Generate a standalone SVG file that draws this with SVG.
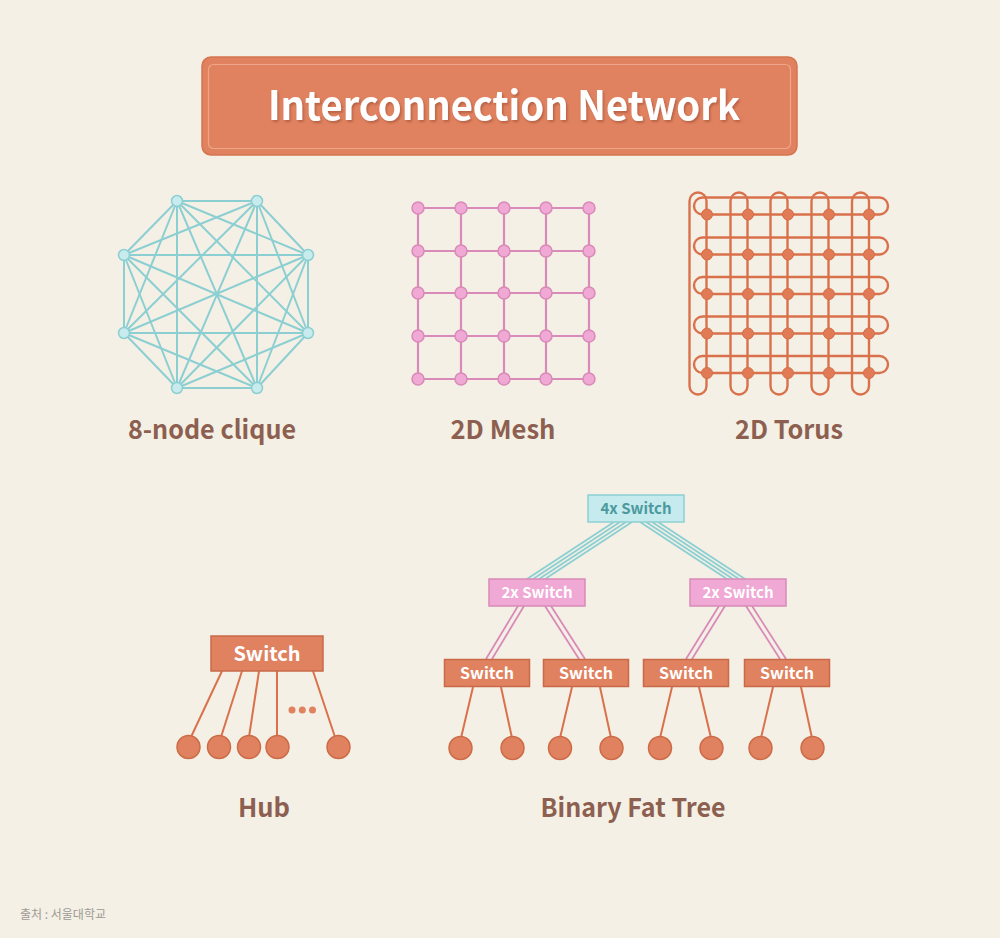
<svg xmlns="http://www.w3.org/2000/svg" width="1000" height="938" viewBox="0 0 1000 938">
<defs>
<style>
.lbl{font-family:"Noto Sans CJK KR","Noto Sans",sans-serif;font-weight:bold;fill:#8d5f50;text-anchor:middle;font-size:26px}
.cq{stroke:#8ccfd2;stroke-width:2;fill:none}
.cqn{fill:#c8ebee;stroke:#8ccfd2;stroke-width:1.5}
.ms{stroke:#d98ab8;stroke-width:2.2;fill:none}
.msn{fill:#f0a8d4;stroke:#d98ab8;stroke-width:1.5}
.tr{stroke:#d9724c;stroke-width:2.4;fill:none}
.trn{fill:#e07b55;stroke:#d66e48;stroke-width:1}
.sw{fill:#e0825f;stroke:#c8694a;stroke-width:1.5}
.swt{font-family:"Noto Sans CJK KR","Noto Sans",sans-serif;font-weight:bold;fill:#ffffff;text-anchor:middle}
.leaf{fill:#e0825f;stroke:#cd6b48;stroke-width:1.5}
.ol{stroke:#d9724c;stroke-width:2;fill:none}
.cy{stroke:#8ccfd2;stroke-width:1.8;fill:none}
.pk{stroke:#d98ab8;stroke-width:1.8;fill:none}
</style>
<filter id="sh" x="-10%" y="-30%" width="120%" height="160%">
<feDropShadow dx="1.5" dy="2" stdDeviation="1" flood-color="#a8553a" flood-opacity="0.7"/>
</filter>
</defs>
<rect width="1000" height="938" fill="#f4f0e5"/>

<g id="title">
<rect x="202" y="57" width="595" height="98" rx="9" fill="#e0825f" stroke="#d5744f" stroke-width="1.5"/>
<rect x="208.5" y="64.5" width="582" height="84" rx="5" fill="none" stroke="#eea58a" stroke-width="1.2"/>
<text x="504" y="120" font-family="'Noto Sans CJK KR','Noto Sans',sans-serif" font-weight="bold" font-size="40" fill="#ffffff" text-anchor="middle" filter="url(#sh)" textLength="472" lengthAdjust="spacingAndGlyphs">Interconnection Network</text>
</g>

<g id="clique">
<g class="cq">
<line x1="177" y1="201" x2="257" y2="201"/><line x1="177" y1="201" x2="308" y2="255"/><line x1="177" y1="201" x2="308" y2="333"/><line x1="177" y1="201" x2="257" y2="388"/><line x1="177" y1="201" x2="177" y2="388"/><line x1="177" y1="201" x2="124" y2="333"/><line x1="177" y1="201" x2="124" y2="255"/>
<line x1="257" y1="201" x2="308" y2="255"/><line x1="257" y1="201" x2="308" y2="333"/><line x1="257" y1="201" x2="257" y2="388"/><line x1="257" y1="201" x2="177" y2="388"/><line x1="257" y1="201" x2="124" y2="333"/><line x1="257" y1="201" x2="124" y2="255"/>
<line x1="308" y1="255" x2="308" y2="333"/><line x1="308" y1="255" x2="257" y2="388"/><line x1="308" y1="255" x2="177" y2="388"/><line x1="308" y1="255" x2="124" y2="333"/><line x1="308" y1="255" x2="124" y2="255"/>
<line x1="308" y1="333" x2="257" y2="388"/><line x1="308" y1="333" x2="177" y2="388"/><line x1="308" y1="333" x2="124" y2="333"/><line x1="308" y1="333" x2="124" y2="255"/>
<line x1="257" y1="388" x2="177" y2="388"/><line x1="257" y1="388" x2="124" y2="333"/><line x1="257" y1="388" x2="124" y2="255"/>
<line x1="177" y1="388" x2="124" y2="333"/><line x1="177" y1="388" x2="124" y2="255"/>
<line x1="124" y1="333" x2="124" y2="255"/>
</g>
<g class="cqn">
<circle cx="177" cy="201" r="5.5"/><circle cx="257" cy="201" r="5.5"/><circle cx="308" cy="255" r="5.5"/><circle cx="308" cy="333" r="5.5"/><circle cx="257" cy="388" r="5.5"/><circle cx="177" cy="388" r="5.5"/><circle cx="124" cy="333" r="5.5"/><circle cx="124" cy="255" r="5.5"/>
</g>
<text class="lbl" x="212" y="439" textLength="168" lengthAdjust="spacingAndGlyphs">8-node clique</text>
</g>

<g id="mesh">
<g class="ms">
<line x1="418" y1="208" x2="589" y2="208"/><line x1="418" y1="251" x2="589" y2="251"/><line x1="418" y1="293" x2="589" y2="293"/><line x1="418" y1="336" x2="589" y2="336"/><line x1="418" y1="379" x2="589" y2="379"/>
<line x1="418" y1="208" x2="418" y2="379"/><line x1="461" y1="208" x2="461" y2="379"/><line x1="504" y1="208" x2="504" y2="379"/><line x1="546" y1="208" x2="546" y2="379"/><line x1="589" y1="208" x2="589" y2="379"/>
</g>
<g class="msn">
<circle cx="418" cy="208" r="6"/><circle cx="461" cy="208" r="6"/><circle cx="504" cy="208" r="6"/><circle cx="546" cy="208" r="6"/><circle cx="589" cy="208" r="6"/>
<circle cx="418" cy="251" r="6"/><circle cx="461" cy="251" r="6"/><circle cx="504" cy="251" r="6"/><circle cx="546" cy="251" r="6"/><circle cx="589" cy="251" r="6"/>
<circle cx="418" cy="293" r="6"/><circle cx="461" cy="293" r="6"/><circle cx="504" cy="293" r="6"/><circle cx="546" cy="293" r="6"/><circle cx="589" cy="293" r="6"/>
<circle cx="418" cy="336" r="6"/><circle cx="461" cy="336" r="6"/><circle cx="504" cy="336" r="6"/><circle cx="546" cy="336" r="6"/><circle cx="589" cy="336" r="6"/>
<circle cx="418" cy="379" r="6"/><circle cx="461" cy="379" r="6"/><circle cx="504" cy="379" r="6"/><circle cx="546" cy="379" r="6"/><circle cx="589" cy="379" r="6"/>
</g>
<text class="lbl" x="503" y="439" textLength="105" lengthAdjust="spacingAndGlyphs">2D Mesh</text>
</g>

<g id="torus">
<g class="tr">
<rect x="694" y="197.5" width="194" height="17" rx="8.5"/>
<rect x="694" y="237.5" width="194" height="17" rx="8.5"/>
<rect x="694" y="277" width="194" height="17" rx="8.5"/>
<rect x="694" y="316.5" width="194" height="17" rx="8.5"/>
<rect x="694" y="356" width="194" height="17" rx="8.5"/>
<rect x="689.5" y="192.5" width="17" height="202" rx="8.5"/>
<rect x="730.5" y="192.5" width="17" height="202" rx="8.5"/>
<rect x="770.5" y="192.5" width="17" height="202" rx="8.5"/>
<rect x="811.5" y="192.5" width="17" height="202" rx="8.5"/>
<rect x="852" y="192.5" width="17" height="202" rx="8.5"/>
</g>
<g class="trn">
<circle cx="707" cy="214.5" r="5.5"/><circle cx="748" cy="214.5" r="5.5"/><circle cx="788" cy="214.5" r="5.5"/><circle cx="829" cy="214.5" r="5.5"/><circle cx="869" cy="214.5" r="5.5"/>
<circle cx="707" cy="254.5" r="5.5"/><circle cx="748" cy="254.5" r="5.5"/><circle cx="788" cy="254.5" r="5.5"/><circle cx="829" cy="254.5" r="5.5"/><circle cx="869" cy="254.5" r="5.5"/>
<circle cx="707" cy="294" r="5.5"/><circle cx="748" cy="294" r="5.5"/><circle cx="788" cy="294" r="5.5"/><circle cx="829" cy="294" r="5.5"/><circle cx="869" cy="294" r="5.5"/>
<circle cx="707" cy="333.5" r="5.5"/><circle cx="748" cy="333.5" r="5.5"/><circle cx="788" cy="333.5" r="5.5"/><circle cx="829" cy="333.5" r="5.5"/><circle cx="869" cy="333.5" r="5.5"/>
<circle cx="707" cy="373" r="5.5"/><circle cx="748" cy="373" r="5.5"/><circle cx="788" cy="373" r="5.5"/><circle cx="829" cy="373" r="5.5"/><circle cx="869" cy="373" r="5.5"/>
</g>
<text class="lbl" x="789" y="439" textLength="108" lengthAdjust="spacingAndGlyphs">2D Torus</text>
</g>

<g id="connectors">
<g class="ol">
<line x1="222" y1="671" x2="191" y2="737"/><line x1="242" y1="671" x2="221" y2="737"/><line x1="259" y1="671" x2="249" y2="737"/><line x1="277" y1="671" x2="277" y2="737"/><line x1="313" y1="671" x2="335" y2="737"/>
<line x1="473" y1="687" x2="461" y2="738"/><line x1="501" y1="687" x2="512" y2="738"/>
<line x1="572" y1="687" x2="560" y2="738"/><line x1="600" y1="687" x2="611" y2="738"/>
<line x1="672" y1="687" x2="660" y2="738"/><line x1="699" y1="687" x2="711" y2="738"/>
<line x1="773" y1="687" x2="761" y2="738"/><line x1="801" y1="687" x2="812" y2="738"/>
</g>
<g class="cy">
<line x1="614" y1="522" x2="527" y2="579"/><line x1="620" y1="522" x2="533" y2="579"/><line x1="626" y1="522" x2="539" y2="579"/><line x1="632" y1="522" x2="545" y2="579"/>
<line x1="640" y1="522" x2="727" y2="579"/><line x1="646" y1="522" x2="733" y2="579"/><line x1="652" y1="522" x2="739" y2="579"/><line x1="658" y1="522" x2="745" y2="579"/>
</g>
<g class="pk">
<line x1="518" y1="606" x2="486" y2="659"/><line x1="524" y1="606" x2="492" y2="659"/>
<line x1="545" y1="606" x2="579" y2="659"/><line x1="551" y1="606" x2="585" y2="659"/>
<line x1="719" y1="606" x2="686" y2="659"/><line x1="725" y1="606" x2="692" y2="659"/>
<line x1="746" y1="606" x2="780" y2="659"/><line x1="752" y1="606" x2="786" y2="659"/>
</g>
</g>

<g id="hub">
<rect class="sw" x="211" y="636" width="112" height="35"/>
<text class="swt" x="267" y="661" font-size="20">Switch</text>
<circle class="leaf" cx="188.5" cy="747" r="11.5"/><circle class="leaf" cx="219" cy="747" r="11.5"/><circle class="leaf" cx="249" cy="747" r="11.5"/><circle class="leaf" cx="277.5" cy="747" r="11.5"/><circle class="leaf" cx="338.5" cy="747" r="11.5"/>
<circle cx="292" cy="710" r="3.5" fill="#e0825f"/><circle cx="302.3" cy="710" r="3.5" fill="#e0825f"/><circle cx="312.5" cy="710" r="3.5" fill="#e0825f"/>
<text class="lbl" x="264" y="817" textLength="52" lengthAdjust="spacingAndGlyphs">Hub</text>
</g>

<g id="fattree">
<rect x="588" y="495" width="96" height="27" fill="#c6ebee" stroke="#8ccfd2" stroke-width="1.5"/>
<text x="636" y="514" font-family="'Noto Sans CJK KR','Noto Sans',sans-serif" font-weight="bold" font-size="15" fill="#4b9a9e" text-anchor="middle">4x Switch</text>
<rect x="489" y="579" width="96" height="27" fill="#f0a8d4" stroke="#d98ab8" stroke-width="1.5"/>
<text class="swt" x="537" y="598" font-size="15">2x Switch</text>
<rect x="690" y="579" width="96" height="27" fill="#f0a8d4" stroke="#d98ab8" stroke-width="1.5"/>
<text class="swt" x="738" y="598" font-size="15">2x Switch</text>
<rect class="sw" x="444.5" y="659.5" width="85" height="27"/>
<text class="swt" x="487" y="679" font-size="16">Switch</text>
<rect class="sw" x="543.5" y="659.5" width="85" height="27"/>
<text class="swt" x="586" y="679" font-size="16">Switch</text>
<rect class="sw" x="643.5" y="659.5" width="85" height="27"/>
<text class="swt" x="686" y="679" font-size="16">Switch</text>
<rect class="sw" x="744.5" y="659.5" width="85" height="27"/>
<text class="swt" x="787" y="679" font-size="16">Switch</text>
<circle class="leaf" cx="460.5" cy="748" r="11.5"/><circle class="leaf" cx="512.5" cy="748" r="11.5"/><circle class="leaf" cx="560" cy="748" r="11.5"/><circle class="leaf" cx="611.5" cy="748" r="11.5"/><circle class="leaf" cx="660" cy="748" r="11.5"/><circle class="leaf" cx="711.5" cy="748" r="11.5"/><circle class="leaf" cx="760.5" cy="748" r="11.5"/><circle class="leaf" cx="812.5" cy="748" r="11.5"/>
<text class="lbl" x="633" y="817" textLength="185" lengthAdjust="spacingAndGlyphs">Binary Fat Tree</text>
</g>

<text x="20" y="919" font-family="'Noto Sans CJK KR','Noto Sans',sans-serif" font-size="12" fill="#9e9a94">출처 : 서울대학교</text>
</svg>
